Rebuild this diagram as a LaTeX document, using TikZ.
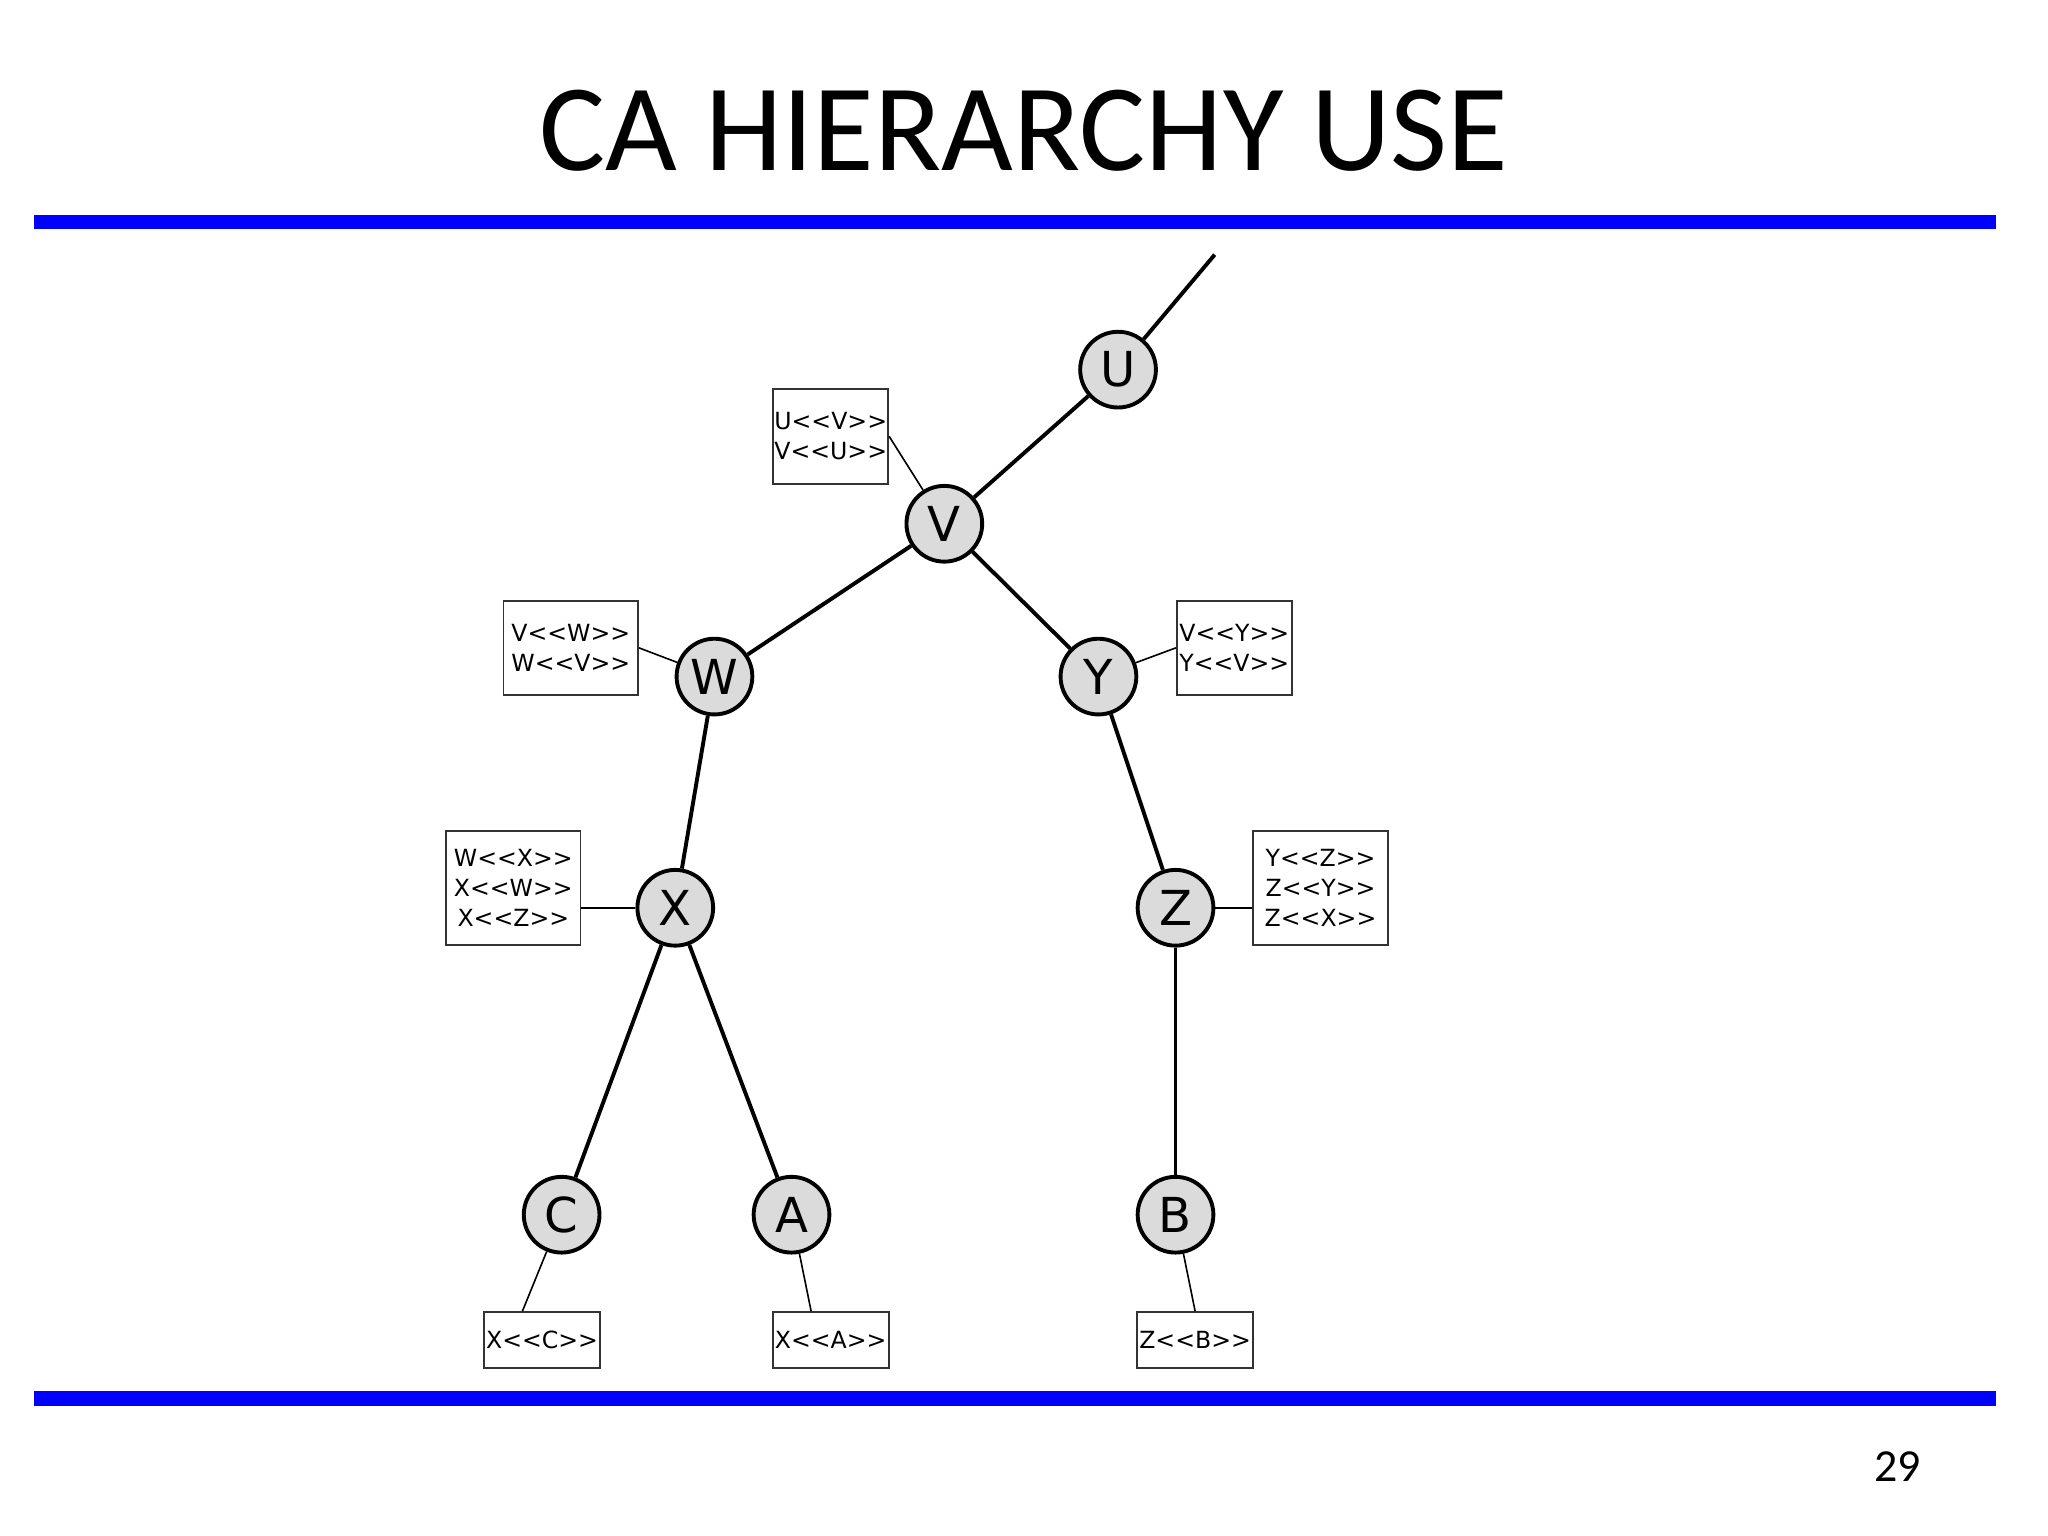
\documentclass[tikz,border=0pt]{standalone}
\usepackage{fontspec}
\setmainfont{Carlito}
\newfontfamily\boxfont{DejaVu Sans}
\begin{document}
\begin{tikzpicture}[x=0.02cm,y=-0.02cm,
  ca/.style={circle,draw=black,line width=1.7pt,fill=black!14,minimum size=1.16cm,inner sep=0pt,font=\boxfont\fontsize{21}{21}\selectfont},
  cert/.style={draw=black!80,line width=0.8pt,fill=white,inner sep=0pt,align=center,font=\boxfont\fontsize{10.3}{13}\selectfont},
  edge/.style={line width=1.7pt},
  thin/.style={line width=0.7pt},
  bar/.style={blue,line width=6.5pt}]
\useasboundingbox (0,0) rectangle (1568,1176);
\node[font=\fontsize{54}{58}\selectfont] (title) at (784,100) {CA HIERARCHY USE};
\draw[bar] (26,170) -- (1528,170);
\draw[bar] (26,1071) -- (1528,1071);
\node[font=\fontsize{20}{20}\selectfont] (pg) at (1453,1123) {29};
\node[ca] (U) at (856,283) {U};
\node[ca] (V) at (723,401) {V};
\node[ca] (W) at (547,518) {W};
\node[ca] (Y) at (841,518) {Y};
\node[ca] (X) at (517,695) {X};
\node[ca] (Z) at (900,695) {Z};
\node[ca] (C) at (430,930) {C};
\node[ca] (A) at (606,930) {A};
\node[ca] (B) at (900,930) {B};
\coordinate (top) at (930,195);
\draw[edge] (U) -- (top);
\draw[edge] (U) -- (V);
\draw[edge] (V) -- (W);
\draw[edge] (V) -- (Y);
\draw[edge] (W) -- (X);
\draw[edge] (Y) -- (Z);
\draw[edge] (X) -- (C);
\draw[edge] (X) -- (A);
\draw[edge] (Z) -- (B);
\node[cert,minimum width=1.76cm,minimum height=1.46cm] (uv) at (636,334) {U<{}<V>{}>\\V<{}<U>{}>};
\node[cert,minimum width=2.06cm,minimum height=1.44cm] (wb) at (437,496) {V<{}<W>{}>\\W<{}<V>{}>};
\node[cert,minimum width=1.76cm,minimum height=1.44cm] (yb) at (945,496) {V<{}<Y>{}>\\Y<{}<V>{}>};
\node[cert,minimum width=2.06cm,minimum height=1.74cm] (xb) at (393,680) {W<{}<X>{}>\\X<{}<W>{}>\\X<{}<Z>{}>};
\node[cert,minimum width=2.06cm,minimum height=1.74cm] (zb) at (1011,680) {Y<{}<Z>{}>\\Z<{}<Y>{}>\\Z<{}<X>{}>};
\node[cert,minimum width=1.78cm,minimum height=0.86cm] (cb) at (415,1026) {X<{}<C>{}>};
\node[cert,minimum width=1.78cm,minimum height=0.86cm] (ab) at (636,1026) {X<{}<A>{}>};
\node[cert,minimum width=1.78cm,minimum height=0.86cm] (bb) at (915,1026) {Z<{}<B>{}>};
\draw[thin] (uv.east) -- (V);
\draw[thin] (wb.east) -- (W);
\draw[thin] (yb.west) -- (Y);
\draw[thin] (xb.east |- X) -- (X);
\draw[thin] (zb.west |- Z) -- (Z);
\draw[thin] ([xshift=-0.3cm]cb.north) -- (C);
\draw[thin] ([xshift=-0.3cm]ab.north) -- (A);
\draw[thin] (bb.north) -- (B);
\end{tikzpicture}
\end{document}
